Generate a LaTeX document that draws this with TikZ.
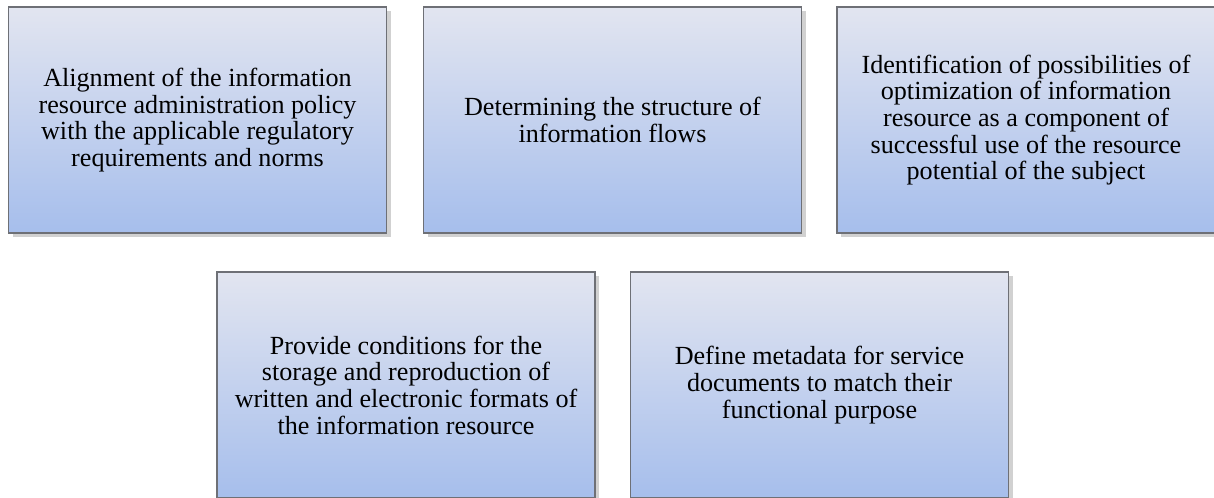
\documentclass[tikz,border=0pt]{standalone}
\usepackage{fontspec}
\setmainfont{Liberation Serif}
\usepackage{xcolor}
\usepackage{tikz}
\usetikzlibrary{shadows}

\definecolor{boxtop}{RGB}{226,229,240}
\definecolor{boxbottom}{RGB}{166,190,236}
\definecolor{boxborder}{RGB}{110,112,118}

\tikzset{
    box/.style={draw=boxborder, line width=1.1pt, top color=boxtop, bottom color=boxbottom,
        minimum width=283.5pt, minimum height=169.5pt, align=center,
        font=\fontsize{19.6}{20}\selectfont,
        drop shadow={shadow xshift=3pt, shadow yshift=-3pt, fill=black, opacity=0.18}}
}

\begin{document}
\begin{tikzpicture}[x=0.75pt, y=-0.75pt]
    
    % Cornice
    \useasboundingbox (0,0) rectangle (1214,497);
    
    % Riga superiore
    \node[box] (allineamento) at (197.5,120) {Alignment of the information\\resource administration policy\\with the applicable regulatory\\requirements and norms};
    \node[box] (struttura) at (612.5,120) {Determining the structure of\\information flows};
    \node[box] (ottimizzazione) at (1026,120) {Identification of possibilities of\\optimization of information\\resource as a component of\\successful use of the resource\\potential of the subject};
    
    % Riga inferiore
    \node[box] (conservazione) at (406,385) {Provide conditions for the\\storage and reproduction of\\written and electronic formats of\\the information resource};
    \node[box] (metadati) at (819.5,385) {Define metadata for service\\documents to match their\\functional purpose};
\end{tikzpicture}
\end{document}
